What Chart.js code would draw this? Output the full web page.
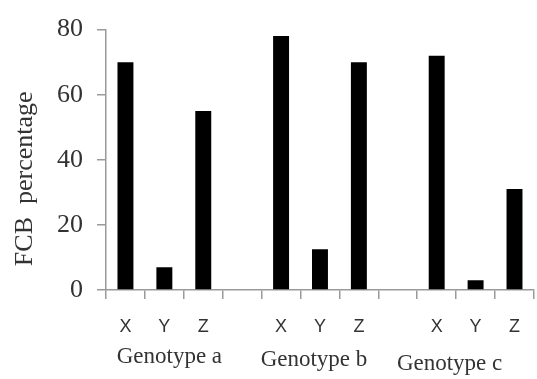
<!DOCTYPE html>
<html>
<head>
<meta charset="utf-8">
<script src="https://cdn.jsdelivr.net/npm/chart.js@4/dist/chart.umd.min.js"></script>
<style>
    body { margin: 0; background: #fff; }
    #wrap { width: 537px; height: 379px; position: relative; }
</style>
</head>
<body>
<div id="wrap"><canvas id="chart-fcb"></canvas></div>
<script>
// data
const categories = ['X', 'Y', 'Z', '', 'X', 'Y', 'Z', '', 'X', 'Y', 'Z'];
const fcbValues = [70, 7, 55, null, 78, 12.5, 70, null, 72, 3, 31];
const groupLabels = ['Genotype a', 'Genotype b', 'Genotype c'];
const yTitle = 'FCB  percentage';

const axisGray = '#9a9a9a';
const textColor = '#333';

// draws the rotated y title and the genotype names under the X/Y/Z labels
const extraText = {
    id: 'extraText',
    afterDraw(chart) {
        const c = chart.ctx;
        const area = chart.chartArea;
        const xs = chart.scales.x;

        c.save();
        c.fillStyle = textColor;
        c.textAlign = 'center';
        c.textBaseline = 'middle';

        c.save();
        c.translate(25, (area.top + area.bottom) / 2 + 19);
        c.rotate(-Math.PI / 2);
        c.font = '26px "Liberation Serif"';
        c.fillText(yTitle, 0, 0);
        c.restore();

        const dx = [5, -6, -26];
        const ys = [357, 360, 364];
        c.font = '23px "Liberation Serif"';
        groupLabels.forEach((lbl, i) => {
            const x = xs.getPixelForValue(i * 4 + 1) + dx[i];
            c.fillText(lbl, x, ys[i]);
        });
        c.restore();
    }
};

new Chart(document.getElementById('chart-fcb'), {
    type: 'bar',
    data: {
        labels: categories,
        datasets: [{
            label: 'FCB percentage',
            data: fcbValues,
            backgroundColor: '#000',
            borderWidth: 0,
            barPercentage: 0.41,
            categoryPercentage: 1
        }]
    },
    options: {
        responsive: true,
        maintainAspectRatio: false,
        animation: false,
        layout: { padding: { top: 25, left: 0, right: 0, bottom: 0 } },
        plugins: {
            legend: { display: false },
            tooltip: { enabled: false }
        },
        scales: {
            x: {
                afterFit(scale) { scale.height = 89; },
                ticks: {
                    color: textColor,
                    font: { family: 'Liberation Sans', size: 18 },
                    padding: 17,
                    maxRotation: 0,
                    autoSkip: false
                },
                grid: {
                    offset: true,
                    drawOnChartArea: false,
                    drawTicks: true,
                    tickLength: 9,
                    color: axisGray,
                    lineWidth: 1.5
                },
                border: { display: true, color: axisGray, width: 1.5 }
            },
            y: {
                min: 0,
                max: 80,
                afterFit(scale) { scale.width = 106; },
                ticks: {
                    stepSize: 20,
                    color: textColor,
                    font: { family: 'Liberation Serif', size: 26 },
                    padding: 14
                },
                grid: {
                    drawOnChartArea: false,
                    drawTicks: true,
                    tickLength: 9,
                    color: axisGray,
                    lineWidth: 1.5
                },
                border: { display: true, color: axisGray, width: 1.5 }
            }
        }
    },
    plugins: [extraText]
});
</script>
</body>
</html>
